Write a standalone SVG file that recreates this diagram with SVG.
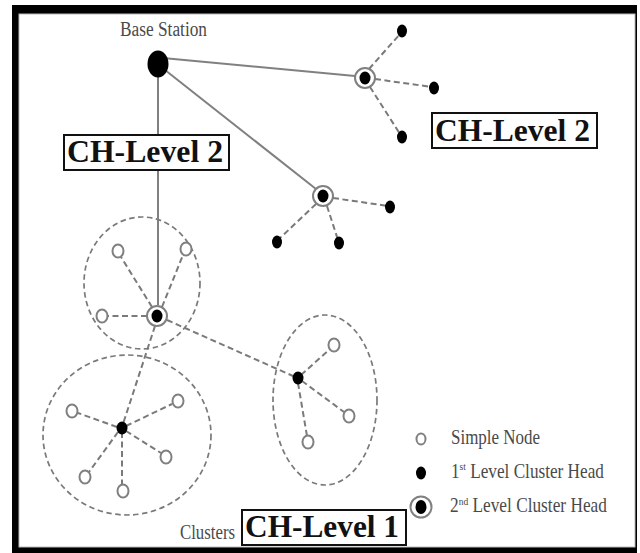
<svg xmlns="http://www.w3.org/2000/svg" width="640" height="553" viewBox="0 0 640 553">
<defs>
<style>
.solid{stroke:#808080;stroke-width:2;fill:none}
.dash{stroke:#7a7a7a;stroke-width:2;fill:none;stroke-dasharray:6 3.5}
.cl{stroke:#7a7a7a;stroke-width:1.7;fill:none;stroke-dasharray:5.5 3.5}
.ch1{fill:#000}
.simple{fill:#fff;stroke:#808080;stroke-width:2}
.ring{fill:#fff;stroke:#808080;stroke-width:2}
.lbl{font-family:"Liberation Serif","Times New Roman",serif;fill:#4a4a4a;font-size:20px}
.big{font-family:"Liberation Serif","Times New Roman",serif;font-weight:bold;fill:#111;font-size:32px}
.box{fill:#fff;stroke:#111;stroke-width:2}
</style>
</defs>
<rect x="0" y="0" width="640" height="553" fill="#fff"/>
<rect x="12" y="5" width="625" height="548" fill="#000"/>
<rect x="19" y="14" width="616" height="533" fill="#fff" stroke="#bbb" stroke-width="1"/>

<g id="clusters">
<ellipse class="cl" cx="142" cy="283" rx="58" ry="66"/>
<ellipse class="cl" cx="127" cy="435" rx="84" ry="80"/>
<ellipse class="cl" cx="325" cy="400" rx="52" ry="85"/>
</g>

<g id="connectors">
<line class="solid" x1="163" y1="58" x2="355" y2="76"/>
<line class="solid" x1="165" y1="70" x2="316" y2="189"/>
<line class="solid" x1="158" y1="77" x2="158" y2="305"/>
<line class="dash" x1="369" y1="69" x2="400" y2="34"/>
<line class="dash" x1="375" y1="79" x2="432" y2="87"/>
<line class="dash" x1="370" y1="87" x2="400" y2="134"/>
<line class="dash" x1="333" y1="198" x2="388" y2="206"/>
<line class="dash" x1="316" y1="204" x2="279" y2="239"/>
<line class="dash" x1="327" y1="206" x2="338" y2="240"/>
<line class="dash" x1="152" y1="307" x2="121" y2="257"/>
<line class="dash" x1="162" y1="307" x2="183" y2="255"/>
<line class="dash" x1="147" y1="316" x2="108" y2="316"/>
<line class="dash" x1="167" y1="320" x2="293" y2="376"/>
<line class="dash" x1="155" y1="326" x2="123" y2="424"/>
<line class="dash" x1="117" y1="427" x2="78" y2="413"/>
<line class="dash" x1="126" y1="426" x2="172" y2="404"/>
<line class="dash" x1="126" y1="431" x2="161" y2="453"/>
<line class="dash" x1="118" y1="432" x2="89" y2="472"/>
<line class="dash" x1="122" y1="432" x2="122" y2="485"/>
<line class="dash" x1="301" y1="375" x2="330" y2="349"/>
<line class="dash" x1="302" y1="381" x2="344" y2="412"/>
<line class="dash" x1="298" y1="383" x2="307" y2="436"/>
</g>

<g id="base-station">
<ellipse class="ch1" cx="158" cy="64" rx="10.5" ry="13.5"/>
<text class="lbl" x="120" y="36" textLength="87" lengthAdjust="spacingAndGlyphs">Base Station</text>
</g>

<g id="ch2-a">
<circle class="ring" cx="365" cy="78" r="10"/>
<ellipse class="ch1" cx="365" cy="78" rx="5.5" ry="6.5"/>
</g>
<g id="ch2-a-n1"><ellipse class="ch1" cx="402" cy="31" rx="5" ry="6.5"/></g>
<g id="ch2-a-n2"><ellipse class="ch1" cx="434" cy="88" rx="5" ry="6.5"/></g>
<g id="ch2-a-n3"><ellipse class="ch1" cx="402" cy="137" rx="5" ry="6.5"/></g>

<g id="ch2-b">
<circle class="ring" cx="323" cy="196" r="10"/>
<ellipse class="ch1" cx="323" cy="196" rx="5.5" ry="6.5"/>
</g>
<g id="ch2-b-n1"><ellipse class="ch1" cx="390" cy="207" rx="5" ry="6.5"/></g>
<g id="ch2-b-n2"><ellipse class="ch1" cx="277" cy="242" rx="5" ry="6.5"/></g>
<g id="ch2-b-n3"><ellipse class="ch1" cx="339" cy="243" rx="5" ry="6.5"/></g>

<g id="ch2-c">
<circle class="ring" cx="157" cy="316" r="10"/>
<ellipse class="ch1" cx="157" cy="316" rx="5.5" ry="6.5"/>
</g>
<g id="c-n1"><ellipse class="simple" cx="118" cy="251" rx="5.5" ry="6.5"/></g>
<g id="c-n2"><ellipse class="simple" cx="186" cy="249" rx="5.5" ry="6.5"/></g>
<g id="c-n3"><ellipse class="simple" cx="102" cy="316" rx="5.5" ry="6.5"/></g>

<g id="ch1-d"><ellipse class="ch1" cx="122" cy="428" rx="5.5" ry="6.5"/></g>
<g id="d-n1"><ellipse class="simple" cx="72" cy="411" rx="5.5" ry="6.5"/></g>
<g id="d-n2"><ellipse class="simple" cx="178" cy="401" rx="5.5" ry="6.5"/></g>
<g id="d-n3"><ellipse class="simple" cx="166" cy="457" rx="5.5" ry="6.5"/></g>
<g id="d-n4"><ellipse class="simple" cx="85" cy="477" rx="5.5" ry="6.5"/></g>
<g id="d-n5"><ellipse class="simple" cx="123" cy="491" rx="5.5" ry="6.5"/></g>

<g id="ch1-e"><ellipse class="ch1" cx="298" cy="378" rx="5.5" ry="6.5"/></g>
<g id="e-n1"><ellipse class="simple" cx="334" cy="345" rx="5.5" ry="6.5"/></g>
<g id="e-n2"><ellipse class="simple" cx="349" cy="416" rx="5.5" ry="6.5"/></g>
<g id="e-n3"><ellipse class="simple" cx="308" cy="442" rx="5.5" ry="6.5"/></g>

<g id="legend">
<ellipse class="simple" cx="421" cy="439" rx="4.5" ry="5.5"/>
<text class="lbl" x="451" y="444" textLength="89" lengthAdjust="spacingAndGlyphs">Simple Node</text>
<ellipse class="ch1" cx="421" cy="473" rx="5" ry="6.5"/>
<text class="lbl" transform="translate(451,478) scale(0.86,1)">1<tspan font-size="11" baseline-shift="7">st</tspan> Level Cluster Head</text>
<circle class="ring" cx="421" cy="507" r="10.5"/>
<ellipse class="ch1" cx="421" cy="507" rx="5.5" ry="7"/>
<text class="lbl" transform="translate(450,512) scale(0.865,1)">2<tspan font-size="11" baseline-shift="7">nd</tspan> Level Cluster Head</text>
<text class="lbl" x="180" y="539" textLength="55" lengthAdjust="spacingAndGlyphs">Clusters</text>
</g>

<g id="label-ch2-left">
<rect class="box" x="64" y="135" width="165" height="35"/>
<text class="big" x="67" y="162" textLength="156" lengthAdjust="spacingAndGlyphs">CH-Level 2</text>
</g>
<g id="label-ch2-right">
<rect class="box" x="432" y="113" width="165" height="35"/>
<text class="big" x="435" y="141" textLength="155" lengthAdjust="spacingAndGlyphs">CH-Level 2</text>
</g>
<g id="label-ch1">
<rect class="box" x="242" y="510" width="164" height="35"/>
<text class="big" x="245" y="537" textLength="154" lengthAdjust="spacingAndGlyphs">CH-Level 1</text>
</g>
</svg>
